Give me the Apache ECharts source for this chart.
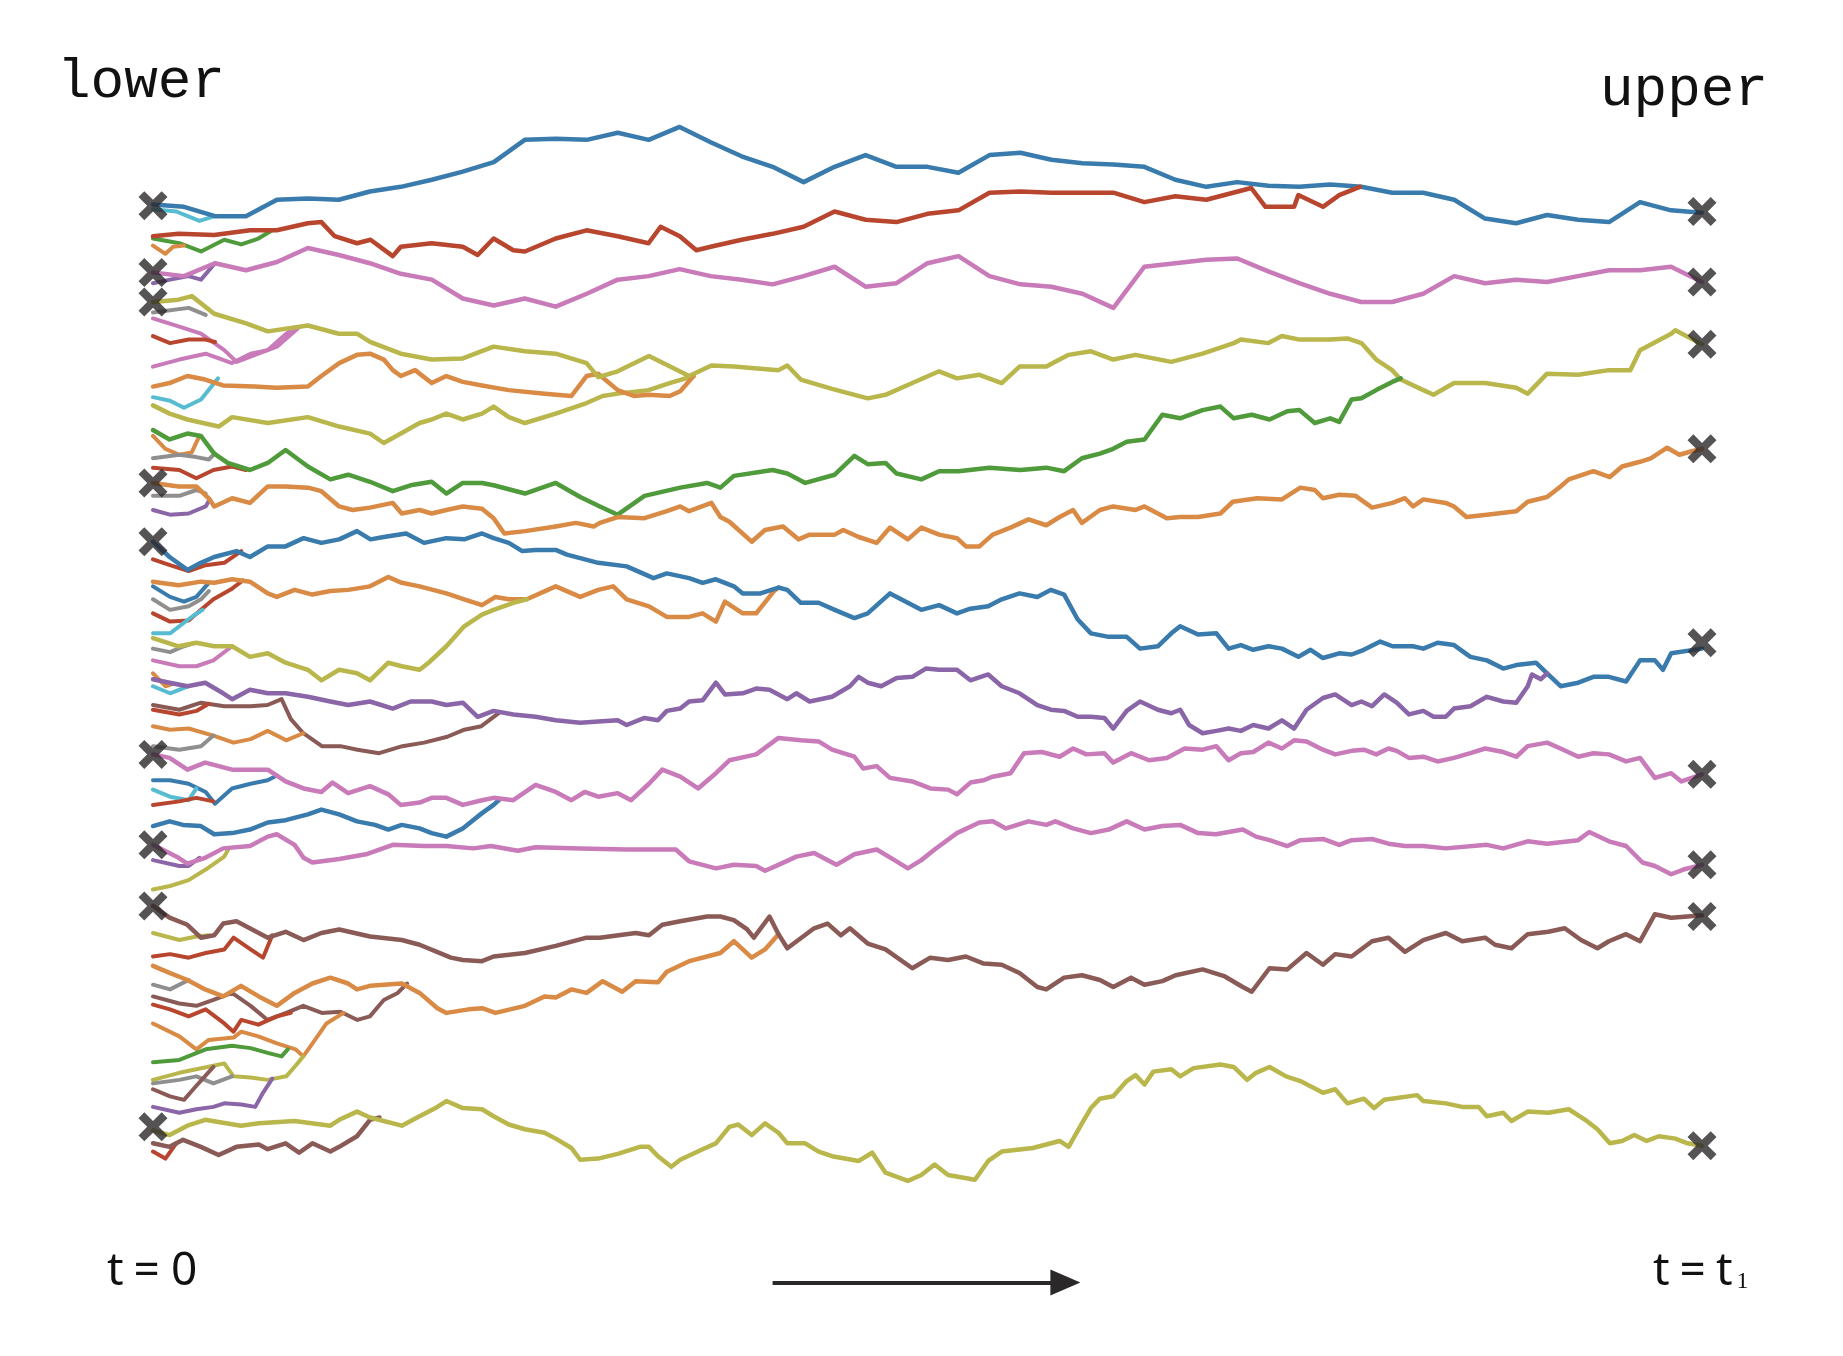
<!DOCTYPE html>
<html><head><meta charset="utf-8">
<script src="https://cdn.jsdelivr.net/npm/echarts/dist/echarts.min.js"></script>
<style>html,body{margin:0;padding:0;background:#fff}#c{width:1843px;height:1356px}</style>
</head><body><div id="c"></div>
<script>
// Time runs from t = 0 to t = 100. Plain arrays are sampled every T_STEP; others are [t, position] pairs.
// Position is in arbitrary units increasing downwards.
const T_STEP = 2;
const blueTop = [174,176,184,184,170,169,170,163,159,153,146,138,119,118,119,113,119,108,121,133,142,155,142,132,142,142,147,132,130,136,139,140,142,153,159,155,158,159,157,159,164,164,170,186,190,183,187,189,172,179,181];
const pinkTop = [232,235,224,230,223,211,217,224,233,238,254,260,254,261,250,238,235,229,235,238,242,235,227,244,241,224,218,235,242,244,250,262,227,224,221,220,231,241,250,257,257,250,235,241,238,240,235,230,230,227,240];
const redTop = [[0,201],[1.65,199],[3.95,200],[6.26,196],[7.99,196],[10,190],[10.87,189],[11.73,201],[13.17,207],[14.04,204],[15.48,218],[16,210],[17.99,207],[20,210],[20.96,217],[21.99,203],[23.26,213],[24.01,214],[26,203],[27.99,196],[30,201],[31.99,207],[32.77,193],[34.01,201],[35.08,213],[36,210],[38,204],[40,199],[42,193],[44,180],[46,187],[48,189],[50,182],[52,179],[54,164],[56,163],[58,164],[60,164],[62,164],[64,172],[66,167],[68,170],[70.9,160],[71.82,176],[73.67,176],[73.94,166],[75.53,176],[76.58,166],[77.91,159]];
const oliveTop = [[0,257],[1.65,255],[2.51,252],[3.95,267],[5.97,275],[7.41,282],[10,277],[12,284],[13.17,284],[14.01,291],[16,301],[17.99,306],[20,305],[21.99,295],[24.01,299],[26,301],[27.99,309],[28.74,321],[30,316],[32.02,303],[34.61,320],[36.05,311],[37.5,312],[40.38,315],[40.95,311],[41.82,323],[43.84,331],[46.14,339],[47.29,336],[49.02,326],[50.75,316],[51.9,322],[53.35,319],[54.79,326],[55.94,312],[57.67,312],[59.11,302],[60.55,299],[61.99,306],[63.43,302],[65.74,308],[67.76,301],[69.77,292],[70.23,289],[72.01,292],[72.88,286],[74.02,289],[76,289],[77.11,288],[78.01,292],[78.97,306],[80,315],[80.55,323],[82.01,332],[82.67,336],[83.99,326],[86,326],[88.01,330],[88.75,335],[90,318],[92.01,319],[93.99,315],[95.37,315],[96,298],[98.01,284],[98.28,281],[100,293]];
const oliveTop2 = [[0,345],[1.07,352],[2.22,357],[4.24,363],[5.11,355],[7.41,360],[10,355],[12.02,363],[14.01,369],[14.9,377],[16,369],[17.21,360],[17.99,357],[18.94,352],[20,357],[21.24,352],[21.99,346],[22.97,355],[24.01,360],[26,352],[27.99,343],[29.03,337],[30,335],[31.99,332],[33.35,326],[34.9,320]];
const orangeTop = [[0,329],[1.07,326],[2.22,320],[3.37,323],[4.53,328],[6.55,329],[7.99,330],[10,329],[10.87,320],[12.02,309],[13.17,302],[14.01,301],[14.9,306],[15.48,315],[16,320],[16.92,315],[17.99,326],[18.94,320],[20,325],[21.24,328],[22.97,332],[25.28,335],[27.01,337],[27.99,320],[28.74,318],[30,332],[31.04,337],[31.99,336],[33.35,337],[34.04,333],[34.9,320]];
const greenMid = [[0,366],[1.07,374],[2.22,369],[3.09,371],[3.95,386],[4.82,394],[6.26,400],[7.41,394],[8.56,383],[10,397],[11.45,408],[12.6,404],[14.01,410],[15.48,418],[16.63,413],[17.99,410],[18.94,420],[20,411],[21.24,411],[21.99,413],[24.01,420],[26,411],[27.58,423],[28.85,431],[30,438],[31.73,422],[34.04,415],[35.77,411],[36.63,415],[37.5,405],[40,400],[40.95,403],[42.11,411],[44.01,404],[45.28,388],[46.14,395],[47.29,394],[48.01,403],[49.6,408],[50.75,401],[52,401],[54,398],[56,400],[57.67,398],[58.82,401],[59.97,390],[61.13,386],[61.99,382],[62.86,376],[64.01,374],[65.16,353],[66.31,356],[67.76,349],[68.91,346],[69.77,356],[70.93,353],[72.08,357],[73.23,350],[74.02,349],[75,360],[76,356],[76.58,359],[77.38,340],[78.01,339],[78.97,332],[80,325],[80.55,322]];
const orangeMid = [[0,411],[1.65,414],[2.8,414],[3.66,425],[3.95,431],[5.11,424],[6.26,428],[7.41,414],[8.56,414],[10,415],[10.87,418],[12.02,431],[12.89,434],[14.01,432],[15.48,428],[16.06,437],[17.21,434],[17.99,437],[18.94,434],[20,431],[21.24,433],[21.99,441],[22.68,454],[24.01,452],[26,448],[27.3,445],[28.45,448],[28.85,445],[30,440],[31.73,441],[33.17,435],[34.04,431],[34.61,435],[36.05,428],[36.63,440],[37.21,444],[38.65,461],[39.51,451],[40.67,448],[41.67,459],[42.39,455],[44.01,455],[44.56,451],[45.56,457],[46.72,462],[47.58,449],[48.73,459],[49.6,449],[50.75,455],[51.9,458],[52.48,465],[53.35,465],[54.21,455],[55.36,449],[56.52,442],[57.67,447],[58.53,440],[59.4,434],[59.97,445],[61.13,434],[61.99,431],[63.43,434],[64.01,431],[65.45,441],[66.31,440],[67.47,440],[68.91,437],[69.71,427],[71.29,424],[72.88,425],[74.07,415],[75,417],[75.53,424],[76.58,421],[77.64,422],[78.7,432],[80.02,428],[80.82,424],[81.35,431],[82.01,425],[83.46,428],[83.99,431],[84.79,440],[86.11,438],[88.01,435],[88.75,427],[90,423],[90.87,414],[91.4,408],[92.99,401],[94.05,406],[94.84,397],[96,393],[96.69,390],[97.75,381],[98.54,387],[99.34,384],[100,382]];
const blueMid = [[0,461],[1.07,474],[2.22,485],[3.09,479],[3.95,474],[5.39,469],[6.26,474],[7.41,465],[8.56,465],[9.72,458],[10.87,462],[12.02,459],[13.17,452],[14.04,459],[14.9,457],[16.34,454],[17.5,462],[18.94,458],[20.09,459],[21.24,454],[21.99,458],[22.97,462],[23.84,469],[24.7,468],[26,468],[26.72,472],[27.58,475],[28.74,479],[30.58,482],[32.31,492],[33.17,488],[34.61,492],[35.48,496],[36.34,493],[37.5,499],[38.07,505],[39.22,505],[40.38,500],[40.95,502],[41.82,513],[42.97,513],[44.01,519],[45.28,526],[46.14,522],[47.58,505],[48.73,513],[49.6,519],[50.75,515],[51.9,522],[52.77,518],[53.92,516],[54.79,510],[55.94,505],[57.09,508],[57.96,502],[58.82,506],[59.69,527],[60.55,539],[61.7,542],[62.86,542],[63.72,552],[64.87,550],[65.74,539],[66.31,533],[67.47,540],[68.65,539],[69.44,552],[70.23,549],[71.03,553],[72.01,550],[72.88,552],[73.94,559],[74.73,553],[75.53,560],[76.58,556],[77.38,557],[78.17,553],[79.23,546],[80.02,550],[81.35,550],[82.01,552],[82.93,547],[83.99,549],[85.05,559],[86.11,562],[87.17,569],[88.01,566],[89.28,564],[90,573],[90.87,584],[92.01,581],[92.99,576],[93.99,576],[95.1,580],[96,562],[96.96,562],[97.48,570],[98.01,556],[100,552]];
const orangeMid2 = [[0,495],[1.65,498],[3.09,495],[3.95,496],[5.11,493],[6.26,495],[7.41,505],[7.99,508],[9.14,502],[10.29,506],[11.45,503],[12.6,502],[14.01,499],[15.19,491],[16.06,496],[17.21,499],[18.94,505],[20.09,510],[21.24,515],[22.11,508],[22.97,510],[24.13,510],[26,499],[27.58,508],[28.74,502],[29.71,499],[30.58,510],[32.02,516],[33.17,525],[34.61,525],[35.48,522],[36.34,529],[36.92,512],[38.07,522],[38.94,522],[40.09,503],[40.38,500]];
const oliveMid = [[0,543],[1.65,550],[2.8,547],[3.95,550],[5.11,550],[6.26,559],[7.41,556],[8.56,564],[10,570],[10.87,579],[12.02,570],[13.17,573],[14.01,579],[15.19,564],[16.06,567],[17.21,570],[17.79,564],[18.94,550],[20.09,533],[21.24,523],[21.99,519],[23.26,513],[24.13,510]];
const purpleMid = [[0,578],[1.07,581],[2.22,584],[3.37,581],[4.53,590],[5.11,595],[6.26,587],[7.41,590],[8.56,590],[10,593],[11.45,597],[12.6,600],[14.01,597],[15.48,603],[16.63,597],[17.99,597],[18.94,600],[20,598],[20.96,610],[21.99,605],[23.26,608],[24.7,610],[26,613],[27.58,615],[28.74,614],[30,613],[30.58,617],[31.73,611],[32.6,613],[33.17,605],[34.04,603],[34.61,597],[35.48,596],[36.34,581],[36.92,591],[38.07,590],[38.94,586],[39.8,587],[40.95,595],[41.53,590],[42.39,597],[43.84,593],[44.99,584],[45.56,576],[46.14,581],[47.01,584],[48.01,577],[49.02,576],[49.89,569],[50.75,570],[51.9,570],[52.77,579],[53.92,574],[54.79,584],[55.94,590],[57.09,600],[57.96,604],[58.82,605],[59.69,610],[60.55,610],[61.42,611],[61.99,620],[62.86,605],[63.72,597],[64.87,604],[65.74,607],[66.31,604],[66.89,617],[67.76,624],[68.65,622],[69.44,620],[70.23,622],[71.03,617],[72.01,620],[72.88,613],[73.67,620],[74.47,604],[75.53,594],[76.32,591],[77.38,600],[78.01,597],[78.7,601],[79.49,591],[80.29,598],[81.08,608],[82.01,605],[82.67,610],[83.46,610],[83.99,603],[85.05,601],[86.11,593],[87.17,597],[88.01,598],[88.75,584],[89.02,574],[89.6,578],[90,573]];
const pinkMid = [[0,642],[1.07,645],[2.22,655],[3.37,649],[5.11,655],[7.41,655],[8.56,665],[9.72,671],[10.87,674],[11.59,666],[12.6,675],[14.01,669],[15.19,676],[15.99,685],[17.21,683],[17.99,679],[18.94,679],[20,685],[21.24,681],[21.99,679],[23.26,681],[24.7,668],[26,674],[27.01,681],[27.87,674],[28.74,678],[30,675],[30.87,681],[32.02,667],[32.88,655],[34.04,661],[35.19,671],[36.34,658],[37.21,647],[38.94,642],[40.38,628],[41.82,630],[42.97,631],[43.84,638],[45.28,644],[45.85,654],[46.72,652],[47.58,662],[49.02,665],[50.18,671],[51.33,672],[51.9,676],[52.77,666],[53.63,664],[54.21,661],[55.36,658],[56.23,641],[57.38,640],[58.53,644],[59.4,637],[60.26,642],[61.42,641],[61.99,649],[63.14,641],[64.3,647],[65.45,645],[66.6,637],[67.76,638],[68.65,635],[69.44,647],[70.23,641],[71.03,640],[72.01,632],[72.88,637],[73.67,630],[74.47,631],[75.53,638],[76.32,642],[77.38,639],[78.17,638],[78.97,642],[79.76,637],[80.29,639],[81.08,645],[82.01,644],[82.93,648],[83.99,645],[85.05,641],[86,637],[87.17,640],[88.01,644],[88.75,635],[90,632],[90.87,637],[92.01,644],[92.99,641],[93.99,642],[95.1,648],[96,645],[96.96,662],[98.01,658],[98.67,665],[100,659]];
const blueLow = [[0,703],[1.07,699],[1.94,702],[3.09,703],[3.95,710],[5.11,709],[6.26,706],[7.41,700],[8.56,698],[10,693],[10.87,689],[12.02,693],[13.17,699],[14.33,702],[15.19,706],[16.06,702],[17.21,705],[17.99,709],[18.94,712],[20,705],[21.24,692],[21.99,685],[22.4,680]];
const pinkLow = [[0,719],[1.65,730],[2.22,735],[3.37,730],[4.53,722],[6.26,720],[7.41,712],[7.99,710],[9.14,719],[9.72,730],[10.29,734],[12.02,731],[13.75,727],[15.48,719],[17.5,720],[18.94,720],[20.67,722],[21.82,720],[23.55,724],[24.7,721],[27.58,722],[30.58,723],[33.75,723],[34.61,733],[36.34,739],[37.5,736],[38.94,737],[39.51,741],[40.38,736],[41.53,729],[42.68,726],[44.12,736],[45.28,727],[46.72,723],[47.87,732],[48.73,739],[49.6,732],[50.46,723],[51.9,709],[53.35,700],[54.21,699],[55.07,705],[56.52,699],[57.67,702],[58.25,699],[59.4,705],[60.55,709],[61.7,706],[62.86,699],[64.01,706],[65.16,703],[66.31,702],[67.47,709],[68.62,710],[70.35,706],[71.21,712],[72.08,715],[73.23,720],[74.07,715],[75.53,714],[76.58,719],[77.38,715],[78.7,714],[79.76,718],[80.82,720],[82.01,720],[83.46,722],[86.11,719],[87.17,722],[88.75,716],[90,718],[92.01,715],[92.72,708],[93.99,716],[95.1,720],[96.16,734],[96.96,737],[98.01,744],[98.8,740],[100,736]];
const brownLow = [[0,771],[1.07,781],[2.22,787],[3.09,798],[3.95,796],[4.53,786],[5.39,784],[7.41,798],[8.56,793],[9.72,800],[10.87,794],[12.02,791],[14.01,797],[16.06,800],[17.21,804],[19.23,815],[20,817],[21.24,818],[21.99,814],[24.01,811],[26,805],[27.99,798],[28.85,798],[31.16,794],[32.02,796],[32.88,787],[34.04,784],[35.77,780],[36.63,780],[37.5,783],[38.36,791],[38.79,798],[39.8,780],[40.38,795],[40.95,807],[42.68,790],[43.55,786],[44.41,796],[44.99,790],[46.14,803],[47.29,808],[49.02,824],[50.18,815],[51.33,817],[52.48,814],[53.63,820],[54.79,821],[55.94,828],[57.09,840],[57.67,842],[58.82,832],[59.97,830],[61.13,834],[61.99,840],[63.14,832],[64.01,838],[65.16,835],[66.02,830],[67.76,825],[69.2,831],[70.35,840],[70.93,844],[72.08,824],[73.23,825],[74.47,811],[75.53,821],[76.32,812],[77.38,814],[78.7,801],[79.76,798],[80.82,810],[82.01,800],[83.46,794],[84.52,801],[86,798],[86.64,804],[87.7,807],[88.75,795],[90.08,793],[91.14,790],[92.19,800],[93.25,807],[93.99,801],[95.1,795],[96,801],[96.96,778],[98.01,781],[99.07,780],[100,779]];
const orangeLow = [[0,822],[1.07,828],[2.22,834],[3.37,842],[4.53,848],[5.68,839],[6.83,848],[7.99,856],[9.14,845],[10.29,837],[11.45,832],[12.6,837],[13.17,842],[14.01,839],[16.06,837],[17.21,845],[18.36,858],[18.94,862],[20.38,859],[21.24,858],[22.11,862],[24.01,856],[25.28,848],[26,849],[27.01,842],[27.99,845],[29.03,835],[30.29,844],[31.16,835],[32.6,836],[33.17,827],[34.61,818],[35.77,814],[36.63,811],[37.5,801],[38.65,815],[39.51,808],[40.38,795]];
const oliveBottom = [[0,962],[1.07,966],[2.22,958],[3.37,953],[5.68,958],[6.83,956],[9.14,954],[11.45,958],[12.02,953],[13.17,946],[14.01,951],[16.06,958],[17.21,950],[18.36,942],[18.94,937],[20,943],[21.24,944],[21.99,950],[22.97,957],[24.01,961],[25.28,964],[26,969],[27.01,977],[27.58,987],[28.74,986],[30,982],[31.44,976],[32.02,976],[32.6,984],[33.46,993],[34.04,987],[35.48,978],[36.34,973],[37.21,959],[37.78,957],[38.65,966],[39.51,956],[40.38,964],[40.95,973],[42.11,973],[42.97,980],[43.84,984],[45.56,988],[46.43,981],[47.29,998],[48.73,1005],[49.6,1000],[50.46,991],[51.33,1000],[53.06,1004],[53.92,988],[54.79,980],[56.8,977],[58.53,971],[59.11,976],[59.97,956],[60.55,943],[61.13,935],[61.99,933],[62.86,920],[63.43,915],[64.01,923],[64.58,912],[65.74,910],[66.31,916],[67.18,909],[68.91,906],[69.77,908],[70.64,919],[71.21,913],[72.08,908],[73.15,916],[74.07,920],[75.53,930],[76.32,927],[77.11,939],[78.17,935],[78.83,943],[79.49,936],[81.61,932],[82.01,937],[83.46,939],[84.52,942],[85.58,942],[86.11,950],[87.17,947],[87.7,954],[88.75,946],[90.08,947],[91.4,944],[92.46,953],[93.25,961],[94.05,973],[94.84,971],[95.63,966],[96.43,971],[97.22,967],[98.28,969],[99.07,973],[100,975]];
const brownBottom = [[0,973],[1.07,976],[1.94,970],[3.09,976],[4.24,983],[5.39,976],[6.83,974],[7.41,978],[8.56,973],[9.43,981],[10.29,973],[11.45,980],[12.02,976],[13.17,967],[14.01,953],[14.62,951]];

// Short lineages near t = 0 ([t, position] pairs up to the point where they merge).
const sCyanTop = [[0,178],[1.5,180],[3.0,188],[4.0,184]];
const sGreenTop = [[0,203],[1.7,207],[3.1,214],[4.6,204],[5.7,208],[6.8,203],[7.7,196]];
const sOrangeTop = [[0,209],[0.8,216],[1.3,210],[2,209]];
const sPurpleTop = [[0,241],[1.1,238],[2.3,235],[3.1,238],[4.0,224]];
const sPink1 = [[0,271],[1.7,278],[3.1,284],[4.6,298],[5.4,308],[6.8,301],[8.0,295],[9.4,279]];
const sPink2 = [[0,312],[1.7,306],[3.4,301],[5.1,309],[6.3,301],[7.4,298],[8.6,284],[9.2,279]];
const sGreyTop = [[0,266],[2.3,262],[3.4,268]];
const sRed290 = [[0,286],[1.1,292],[2.3,289],[3.4,289],[4.0,291]];
const sCyan340 = [[0,338],[1.1,341],[2.0,347],[3.1,340],[4.2,322]];
const sOrange371 = [[0,371],[0.8,382],[1.7,387],[2.5,385],[3.0,371]];
const sGrey390 = [[0,390],[1.7,387],[2.8,389],[3.6,391],[4.0,386]];
const sRed400 = [[0,398],[1.7,400],[2.8,407],[3.9,400],[5.1,397],[6.0,400]];
const sPurple434 = [[0,434],[1.1,438],[2.3,437],[3.4,431],[3.66,425]];
const sGrey422 = [[0,422],[1.7,422],[2.8,417],[3.4,420]];
const sRed476 = [[0,476],[1.1,481],[2.3,486],[3.4,481],[4.6,479],[5.7,469]];
const sBlue499 = [[0,499],[1.1,508],[2.0,512],[2.8,508],[3.6,496]];
const sGrey510 = [[0,510],[1.1,519],[2.3,516],[3.1,510],[3.6,503]];
const sRed522 = [[0,522],[1.1,529],[2.3,528],[3.1,519],[3.9,510],[5.1,501],[5.8,494]];
const sCyan539 = [[0,539],[1.1,539],[2.0,530],[2.6,524],[3.2,519]];
const sGrey552 = [[0,552],[1.1,555],[2.0,550],[2.5,548]];
const sPink562 = [[0,562],[1.7,567],[2.8,567],[3.9,562],[5.1,550]];
const sOrange573 = [[0,573],[0.8,584],[1.3,582]];
const sCyan584 = [[0,584],[1.1,590],[2.3,584]];
const sBrownM = [[0,600],[1.7,604],[3.1,598],[4.6,601],[6.3,601],[7.4,600],[8.3,595],[8.9,612],[9.7,624],[10.9,635],[12.1,635],[13.2,638],[14.6,641],[16.1,635],[17.5,632],[19.0,627],[20.1,621],[21.2,618],[22.4,606]];
const sRed604 = [[0,604],[1.7,608],[2.8,605],[3.6,599]];
const sOrangeN = [[0,618],[1.1,621],[2.3,620],[3.9,626],[5.2,632],[6.3,629],[7.4,622],[8.6,630],[9.7,624]];
const sGrey635 = [[0,635],[1.7,638],[3.1,635],[3.9,626]];
const sBlue664 = [[0,664],[1.1,664],[2.3,667],[3.4,674],[4.0,684],[5.1,671],[6.3,667],[7.4,664],[8.0,660]];
const sCyan672 = [[0,672],[1.1,678],[2.3,681],[2.8,671]];
const sRed685 = [[0,685],[1.7,682],[2.8,679],[3.9,682]];
const sPurple732 = [[0,732],[1.7,737],[2.3,737],[3.0,730]];
const sOlive757 = [[0,757],[1.1,754],[2.3,749],[3.4,740],[4.6,729],[4.9,722]];
const sOlive794 = [[0,794],[1.7,800],[2.8,797],[3.6,796]];
const sRed814 = [[0,814],[1.1,812],[2.3,815],[3.4,811],[4.6,808],[5.2,798],[6.3,808],[7.1,815],[7.7,796]];
const sGrey838 = [[0,838],[1.1,842],[2.3,834]];
const sBrown848 = [[0,848],[1.7,854],[2.8,856],[3.9,851],[5.1,845],[6.3,856],[7.4,868],[8.6,862],[9.7,856],[10.9,862],[12.1,861],[13.2,868],[14.0,865],[14.9,851],[15.8,845],[16.4,837]];
const sRed855 = [[0,855],[1.1,859],[2.3,865],[3.4,859],[4.6,871],[5.2,878],[5.7,868],[6.8,872],[8.0,865],[8.9,862]];
const sOrange871 = [[0,871],[1.7,882],[2.8,893],[3.6,885],[5.2,883],[5.7,878],[6.8,882],[8.0,888],[9.2,893],[9.7,899],[10.3,888],[11.2,871],[12.3,862]];
const sGreen904 = [[0,904],[1.7,902],[3.4,893],[5.1,890],[6.3,892],[7.4,896],[8.3,899],[8.7,893]];
const sOlive919 = [[0,919],[1.7,913],[2.8,910],[3.9,907],[4.6,905],[5.2,916],[6.3,917],[7.4,919],[8.6,916],[9.2,907],[9.7,899]];
const sGrey922 = [[0,922],[1.7,919],[2.8,916],[3.9,922],[5.1,916]];
const sBrown927 = [[0,927],[1.1,933],[2.0,936],[2.8,924],[3.9,908]];
const sPurple942 = [[0,942],[1.7,947],[2.8,944],[3.9,942],[4.6,939],[5.7,940],[6.6,942],[7.1,930],[7.7,918]];
const sRed980 = [[0,980],[0.8,986],[1.5,973]];

// Markers and annotations
const startMarks = [175,232,257,411,461,642,719,771,959];
const endMarks = [180,240,293,382,547,659,736,780,975];
const arrowSpan = [40, 58.9];
const arrowLevel = 1091.5;

const COL = {blue:'#3a7bad', red:'#b8452d', pink:'#c97ab9', olive:'#b9b64c', green:'#4f9a3b',
  orange:'#d98a45', purple:'#8a65a7', brown:'#8a5b56', grey:'#8f8f8f', cyan:'#56bcd2'};

const longLines = [
  [blueTop,'blue'],[redTop,'red'],[pinkTop,'pink'],[oliveTop2,'olive'],[orangeTop,'orange'],[oliveTop,'olive'],
  [greenMid,'green'],[orangeMid,'orange'],[orangeMid2,'orange'],[oliveMid,'olive'],[blueMid,'blue'],
  [purpleMid,'purple'],[blueLow,'blue'],[pinkMid,'pink'],[pinkLow,'pink'],[orangeLow,'orange'],[brownLow,'brown'],
  [brownBottom,'brown'],[oliveBottom,'olive']
];
const shortLines = [
  [sCyanTop,'cyan'],[sGreenTop,'green'],[sOrangeTop,'orange'],[sPurpleTop,'purple'],[sPink1,'pink'],[sPink2,'pink'],
  [sGreyTop,'grey'],[sRed290,'red'],[sCyan340,'cyan'],[sOrange371,'orange'],[sGrey390,'grey'],[sRed400,'red'],
  [sPurple434,'purple'],[sGrey422,'grey'],[sRed476,'red'],[sBlue499,'blue'],[sGrey510,'grey'],[sRed522,'red'],
  [sCyan539,'cyan'],[sGrey552,'grey'],[sPink562,'pink'],[sOrange573,'orange'],[sCyan584,'cyan'],[sBrownM,'brown'],
  [sRed604,'red'],[sOrangeN,'orange'],[sGrey635,'grey'],[sBlue664,'blue'],[sCyan672,'cyan'],[sRed685,'red'],
  [sPurple732,'purple'],[sOlive757,'olive'],[sOlive794,'olive'],[sRed814,'red'],[sGrey838,'grey'],[sBrown848,'brown'],
  [sRed855,'red'],[sOrange871,'orange'],[sGreen904,'green'],[sOlive919,'olive'],[sGrey922,'grey'],[sBrown927,'brown'],
  [sPurple942,'purple'],[sRed980,'red']
];

const XPATH = 'path://M0,2 L2,0 L5,3 L8,0 L10,2 L7,5 L10,8 L8,10 L5,7 L2,10 L0,8 L3,5 Z';
const toPairs = d => (typeof d[0] === 'number') ? d.map((y,i)=>[i*T_STEP,y]) : d;

const series = [];
shortLines.forEach(([d,c]) => series.push({type:'line', data:d, showSymbol:false, silent:true, z:2,
  lineStyle:{color:COL[c], width:4, join:'round', cap:'round'}}));
longLines.forEach(([d,c]) => series.push({type:'line', data:toPairs(d), showSymbol:false, silent:true, z:3,
  lineStyle:{color:COL[c], width:4.5, join:'round', cap:'round'}}));
series.push({type:'scatter', z:5, silent:true, symbol:XPATH, symbolSize:29, itemStyle:{color:'#2b2829'},
  data: startMarks.map(y=>[0,y]).concat(endMarks.map(y=>[100,y]))});
series.push({type:'line', data:[], silent:true, markLine:{silent:true, symbol:['none','triangle'], symbolSize:[26,30],
  label:{show:false}, lineStyle:{color:'#2b2829', width:4, type:'solid'},
  data:[[{coord:[arrowSpan[0],arrowLevel]},{coord:[arrowSpan[1],arrowLevel]}]]}});

const SANS = '46px "Noto Sans", sans-serif';
const chart = echarts.init(document.getElementById('c'), null, {renderer:'canvas'});
chart.setOption({
  animation:false,
  backgroundColor:'#ffffff',
  grid:{left:153, right:141, top:0, bottom:0},
  xAxis:{type:'value', min:0, max:100, show:false},
  yAxis:{type:'value', min:0, max:1154, inverse:true, show:false},
  graphic:[
    {type:'text', left:57, top:54, style:{text:'lower', font:'56px "Liberation Mono", monospace', fill:'#111'}},
    {type:'text', left:1600, top:62, style:{text:'upper', font:'56px "Liberation Mono", monospace', fill:'#111'}},
    {type:'text', left:107, top:1249, style:{text:'{t|t}{e|=}{z|0}', rich:{
      t:{font:SANS, fill:'#111', padding:[0,10,0,0]},
      e:{font:SANS, fill:'#111', padding:[0,11,0,0]},
      z:{font:SANS, fill:'#111'}}}},
    {type:'text', left:1653, top:1249, style:{text:'{t|t}{e|=}{u|t}{b|1}', rich:{
      t:{font:SANS, fill:'#111', padding:[0,10,0,0]},
      e:{font:SANS, fill:'#111', padding:[0,10,0,0]},
      u:{font:SANS, fill:'#111', padding:[0,4,0,0]},
      b:{font:'24px "Liberation Serif", serif', fill:'#111', padding:[20,0,0,0]}}}}
  ],
  series: series
});
</script></body></html>
